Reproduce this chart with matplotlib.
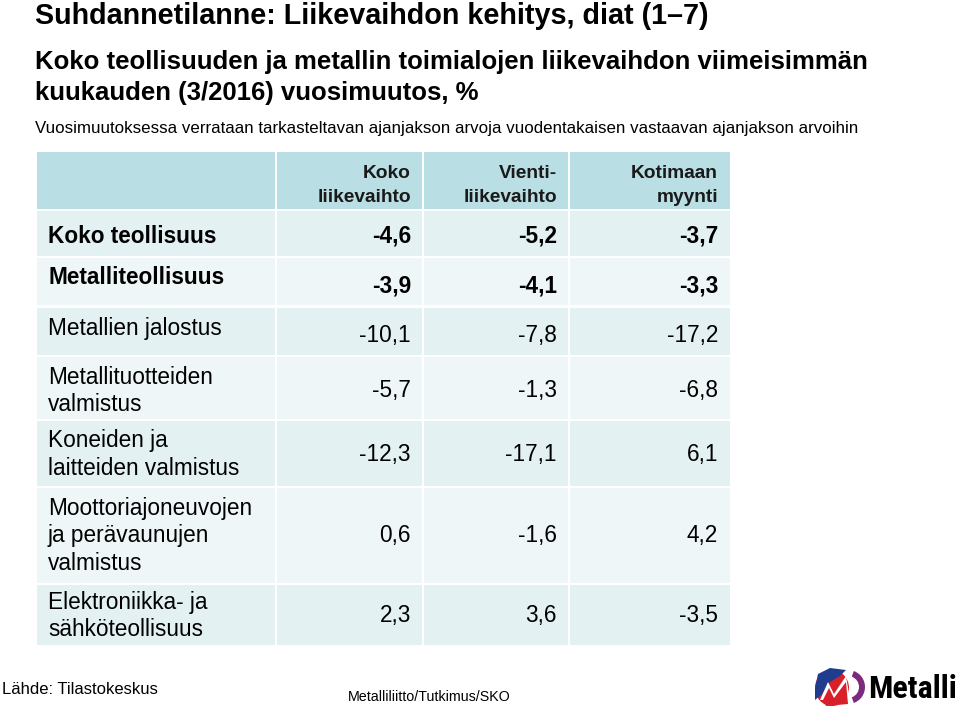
import matplotlib
matplotlib.use("Agg")
import matplotlib.pyplot as plt
from matplotlib.patches import Rectangle, Polygon, Wedge, Ellipse

# ---- data ----
title = "Suhdannetilanne: Liikevaihdon kehitys, diat (1\u20137)"
subtitle = "Koko teollisuuden ja metallin toimialojen liikevaihdon viimeisimmän\nkuukauden (3/2016) vuosimuutos, %"
note = "Vuosimuutoksessa verrataan tarkasteltavan ajanjakson arvoja vuodentakaisen vastaavan ajanjakson arvoihin"
col_headers = ["Koko\nliikevaihto", "Vienti-\nliikevaihto", "Kotimaan\nmyynti"]
row_labels = ["Koko teollisuus", "Metalliteollisuus", "Metallien jalostus",
              "Metallituotteiden\nvalmistus", "Koneiden ja\nlaitteiden valmistus",
              "Moottoriajoneuvojen\nja perävaunujen\nvalmistus",
              "Elektroniikka- ja\nsähköteollisuus"]
koko_liikevaihto = [-4.6, -3.9, -10.1, -5.7, -12.3, 0.6, 2.3]
vienti_liikevaihto = [-5.2, -4.1, -7.8, -1.3, -17.1, -1.6, 3.6]
kotimaan_myynti = [-3.7, -3.3, -17.2, -6.8, 6.1, 4.2, -3.5]
bold_rows = [True, True, False, False, False, False, False]
source = "Lähde: Tilastokeskus"
credit = "Metalliliitto/Tutkimus/SKO"

main = ["Liberation Sans", "DejaVu Sans"]
logo_font = ["Roboto Condensed", "Liberation Sans", "DejaVu Sans"]

fig = plt.figure(figsize=(9.6, 7.09), dpi=100)
ax = fig.add_axes([0, 0, 1, 1])
ax.set_xlim(0, 960)
ax.set_ylim(709, 0)
ax.axis("off")

# titles
ax.text(35, 16, title, fontsize=20.7, fontweight="bold", family=main, va="center", ha="left")
sub_lines = subtitle.split("\n")
for k, line in enumerate(sub_lines):
    ax.text(35, 62 + k * 31, line, fontsize=18.5, fontweight="bold", family=main, va="center", ha="left")
ax.text(35, 129, note, fontsize=12.2, family=main, va="center", ha="left")

# table geometry (pixels)
col_edges = [37, 276, 423, 569, 730]
row_edges = [(152, 209), (211, 256), (258, 305), (308, 355), (357, 419), (421, 486), (488, 583), (585, 645)]
header_col = "#b9dee3"
odd_col = "#e3f1f3"
even_col = "#eff6f8"
gap = 2
line_h = 27.5
fs = 16.3

def fmt(v):
    return f"{v:.1f}".replace(".", ",")

columns = [koko_liikevaihto, vienti_liikevaihto, kotimaan_myynti]

for ri, (y0, y1) in enumerate(row_edges):
    color = header_col if ri == 0 else (odd_col if ri % 2 == 1 else even_col)
    for ci in range(4):
        x0 = col_edges[ci] + (0 if ci == 0 else gap / 2)
        x1 = col_edges[ci + 1] - (0 if ci == 3 else gap / 2)
        ax.add_patch(Rectangle((x0, y0), x1 - x0, y1 - y0, facecolor=color, edgecolor="none"))

# header text
for ci, h in enumerate(col_headers):
    for k, line in enumerate(h.split("\n")):
        ax.text(col_edges[ci + 2] - 12, 173 + k * 24, line, fontsize=13.8, fontweight="bold", family=main,
                ha="right", va="center", color="#1a1a1a")

# rows
for i, lab in enumerate(row_labels):
    y0, y1 = row_edges[i + 1]
    w = "bold" if bold_rows[i] else "normal"
    lines = lab.split("\n")
    if i == 0:
        first = (y0 + y1) / 2 + 3
        ny = first
    else:
        first = y0 + (17 if i == 6 else 20)
        if len(lines) == 1:
            ny = (y0 + y1) / 2 + 4
        else:
            ny = first + (len(lines) - 1) * line_h / 2
    for k, line in enumerate(lines):
        ax.text(48, first + k * line_h, line, fontsize=fs, fontweight=w, family=main, ha="left", va="center")
    for ci, col in enumerate(columns):
        ax.text(col_edges[ci + 2] - 12, ny, fmt(col[i]), fontsize=fs, fontweight=w, family=main,
                ha="right", va="center")

# footer
ax.text(2, 690, source, fontsize=12, family=main, ha="left", va="center")
ax.text(429, 697, credit, fontsize=10.3, family=main, ha="center", va="center")

# logo
ax.add_patch(Ellipse((832, 688), 34, 36, facecolor="#d8202a", edgecolor="none"))
ax.add_patch(Polygon([[815, 688], [818, 674], [830, 668], [846, 670], [840, 676], [830, 682], [822, 694], [815, 700]],
                     closed=True, facecolor="#1f3d8c", edgecolor="none"))
ax.add_patch(Polygon([[820, 700], [828, 682], [834, 694], [846, 676], [850, 700]], closed=True,
                     facecolor="white", edgecolor="none"))
ax.add_patch(Polygon([[823, 700], [829, 688], [834, 698], [846, 682], [848, 704], [826, 706]], closed=True,
                     facecolor="#d8202a", edgecolor="none"))
ax.add_patch(Wedge((848, 687), 17, -70, 70, width=6, facecolor="#7b2a7e", edgecolor="none"))
ax.text(868, 689, "Metalli", fontsize=23, fontweight="bold", family=logo_font, ha="left", va="center")

fig.savefig("out.png", dpi=100)
